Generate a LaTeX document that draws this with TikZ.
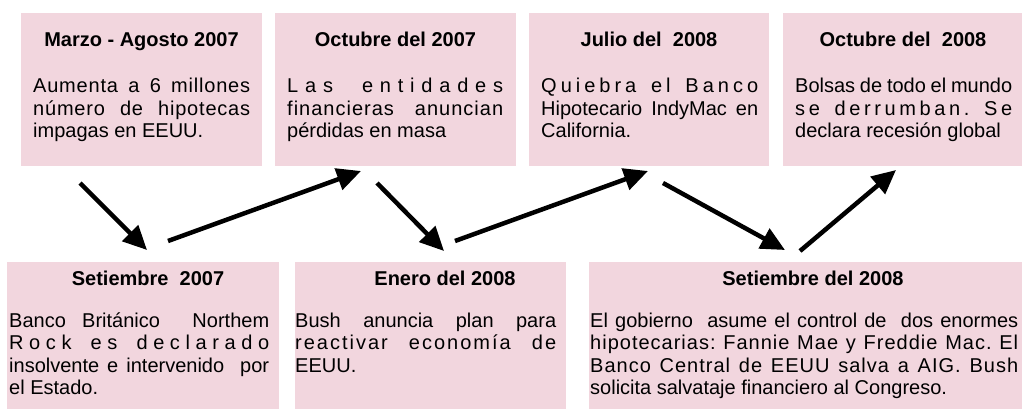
\documentclass[tikz,border=0pt]{standalone}
\usepackage{fontspec}
\setmainfont{Liberation Sans}
\usetikzlibrary{arrows.meta}
\definecolor{rosa}{RGB}{242,214,222}
\newcommand\espaciado[2]{{\addfontfeature{LetterSpace=#1}#2}}
\tolerance=10000
\hbadness=10000
\hyphenpenalty=10000
\frenchspacing

\begin{document}
\begin{tikzpicture}[x=1pt, y=-1pt,
  caja/.style={fill=rosa, inner sep=0pt},
  titulo/.style={anchor=base, inner sep=0pt, font=\fontsize{20}{22.5}\selectfont\bfseries},
  texto/.style={anchor=base west, inner sep=0pt, align=justify, font=\fontsize{20}{22.5}\selectfont},
  flecha/.style={line width=4.5pt, -{Triangle[length=24pt, width=22pt]}}]

\useasboundingbox (0,0) rectangle (1022,409);

\node[caja, minimum width=241, minimum height=153] (marzo) at (141.5,89.5) {};
\node[caja, minimum width=241, minimum height=153] (octubre07) at (395.5,89.5) {};
\node[caja, minimum width=240, minimum height=153] (julio08) at (649,89.5) {};
\node[caja, minimum width=240, minimum height=153] (octubre08) at (903,89.5) {};

\node[caja, minimum width=272, minimum height=150] (setiembre07) at (143,337) {};
\node[caja, minimum width=271, minimum height=150] (enero08) at (430.5,337) {};
\node[caja, minimum width=436, minimum height=150] (setiembre08) at (807,337) {};

\node[titulo] (marzo-t) at (141.5,46.7) {Marzo - Agosto 2007};
\node[titulo] (octubre07-t) at (395.5,46.7) {Octubre del 2007};
\node[titulo] (julio08-t) at (649,46.7) {Julio del\ \ 2008};
\node[titulo] (octubre08-t) at (903,46.7) {Octubre del\ \ 2008};
\node[titulo] (setiembre07-t) at (148,285) {Setiembre\ \ 2007};
\node[titulo] (enero08-t) at (445,285) {Enero del 2008};
\node[titulo] (setiembre08-t) at (813,285) {Setiembre del 2008};

\node[texto, text width=217] (marzo-x) at (33,93)
  {\espaciado{4}{Aumenta a 6 millones}\linebreak \espaciado{4}{número de hipotecas}\linebreak impagas en EEUU.};
\node[texto, text width=216] (octubre07-x) at (287,93)
  {\espaciado{34}{Las entidades}\linebreak \espaciado{5}{financieras anuncian}\linebreak pérdidas en masa};
\node[texto, text width=217] (julio08-x) at (541,93)
  {\espaciado{20}{Quiebra el Banco}\linebreak Hipotecario IndyMac en\linebreak California.};
\node[texto, text width=217] (octubre08-x) at (795,93)
  {Bolsas de todo el mundo\linebreak \espaciado{18}{se derrumban. Se}\linebreak declara recesión global};
\node[texto, text width=260] (setiembre07-x) at (9,327)
  {Banco Británico\ \ Northem\linebreak \espaciado{28}{Rock es declarado}\linebreak insolvente e intervenido\ \ por\linebreak el Estado.};
\node[texto, text width=261] (enero08-x) at (295,327)
  {Bush anuncia plan para\linebreak \espaciado{10}{reactivar economía de}\linebreak EEUU.};
\node[texto, text width=428] (setiembre08-x) at (590,327)
  {El gobierno\ \ asume el control de\ \ dos enormes\linebreak \espaciado{5}{hipotecarias: Fannie Mae y Freddie Mac. El}\linebreak \espaciado{5}{Banco Central de EEUU salva a AIG. Bush}\linebreak solicita salvataje financiero al Congreso.};

\foreach \i/\xa/\ya/\xb/\yb in {1/80/183/147/250, 2/168/241/361/171, 3/377/183/444/251,
  4/455/241/648/171, 5/663/183/785/250, 6/800/251/896/170}
{
  \coordinate (ini\i) at (\xa,\ya);
  \coordinate (fin\i) at (\xb,\yb);
  \draw[flecha] (ini\i) -- (fin\i);
}

\end{tikzpicture}
\end{document}
